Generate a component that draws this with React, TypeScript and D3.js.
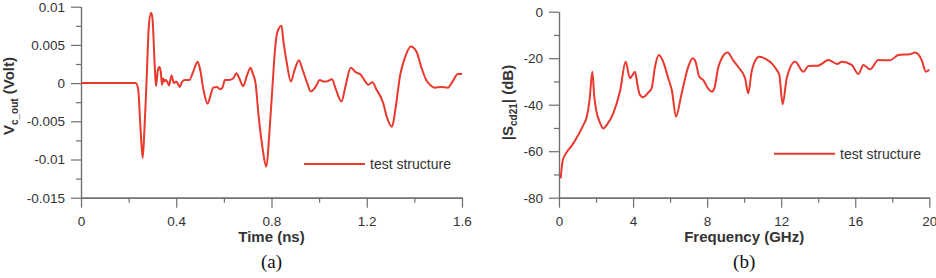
import React, { useEffect, useRef } from 'react';
import * as d3 from 'd3';

// (a) transient response
const timeNs = [
  0, 0.23, 0.24, 0.25, 0.259, 0.265, 0.275, 0.285, 0.294, 0.3, 0.31, 0.315, 0.322, 0.329, 0.335, 0.34,
  0.345, 0.35, 0.355, 0.362, 0.37, 0.38, 0.39, 0.4, 0.415, 0.425, 0.436, 0.455, 0.47, 0.49, 0.5, 0.515,
  0.532, 0.545, 0.555, 0.57, 0.585, 0.595, 0.604, 0.62, 0.639, 0.653, 0.665, 0.681, 0.695, 0.712, 0.722,
  0.733, 0.745, 0.76, 0.779, 0.79, 0.805, 0.815, 0.825, 0.842, 0.85, 0.865, 0.881, 0.895, 0.915, 0.93,
  0.95, 0.965, 0.985, 1.003, 1.02, 1.031, 1.054, 1.07, 1.094, 1.11, 1.133, 1.155, 1.175, 1.19, 1.206,
  1.224, 1.24, 1.269, 1.285, 1.306, 1.32, 1.34, 1.36, 1.385, 1.409, 1.43, 1.45, 1.465, 1.486, 1.51,
  1.541, 1.56, 1.583, 1.6,
];
const voltOut = [
  0, 0, -0.0008, -0.006, -0.0098, -0.007, 0.0, 0.0075, 0.0092, 0.0085, 0.002, -0.0004, 0.0015, 0.0021,
  0.0015, -0.0002, 0.0006, 0.0002, 0.0004, 0.0002, -0.0003, 0.001, 0.0, 0.0002, -0.0005, 0.0002, 0.0004,
  0.0004, 0.0014, 0.0028, 0.0018, -0.001, -0.0027, -0.0015, -0.0006, -0.0005, -0.0008, -0.0005, 0.0004,
  0.0004, 0.0006, 0.0013, 0.0006, -0.0004, 0.0008, 0.002, 0.0012, 0.0, -0.004, -0.008, -0.0109, -0.007,
  0.0, 0.0045, 0.0067, 0.0075, 0.0055, 0.0025, 0.0002, 0.0015, 0.003, 0.0018, 0.0, -0.0011, -0.0005,
  0.0004, 0.0002, 0.0002, 0.0005, -0.0008, -0.0024, -0.0005, 0.002, 0.0014, 0.0011, 0.0004, -0.0002,
  0.0001, -0.0008, -0.0026, -0.0045, -0.0057, -0.0035, 0.001, 0.0033, 0.0048, 0.0041, 0.002, 0.0004,
  -0.0002, -0.0006, -0.0005, -0.0006, 0.0002, 0.0012, 0.0012,
];

// (b) mode conversion
const freqGHz = [
  0.09, 0.2, 0.38, 0.7, 1.04, 1.3, 1.5, 1.65, 1.8, 1.9, 2.0, 2.2, 2.39, 2.6, 2.93, 3.3, 3.6, 3.83, 3.95,
  4.1, 4.25, 4.37, 4.55, 4.8, 5.0, 5.2, 5.4, 5.6, 5.9, 6.1, 6.32, 6.6, 6.98, 7.22, 7.35, 7.58, 7.8, 8.05,
  8.25, 8.39, 8.6, 8.79, 9.11, 9.4, 9.7, 10.05, 10.22, 10.4, 10.6, 10.82, 11.2, 11.49, 11.75, 11.9, 12.08,
  12.3, 12.75, 13.2, 13.47, 14.0, 14.55, 15.03, 15.27, 15.81, 16.17, 16.44, 16.8, 17.25, 17.88, 18.33,
  18.96, 19.23, 19.59, 19.82, 20.0,
];
const scd21 = [
  -71.7, -64, -60.9, -57.5, -53, -49, -45.2, -38, -25.8, -36, -42, -47.5, -50.2, -48.5, -43.7, -34, -21.5,
  -28.6, -27.5, -25.8, -32, -35.8, -36.8, -35, -33, -23, -18.6, -21, -28.6, -34, -45.2, -36, -23.7, -20,
  -21, -28, -29.5, -33, -34.4, -33, -24, -20, -17.5, -20.8, -24, -28.6, -35.1, -26, -21, -19.4, -20.5,
  -22.2, -25, -27.2, -39.8, -28.6, -21.5, -25.8, -23.4, -23.2, -20.8, -22.5, -21.5, -22.9, -26.8, -22.9,
  -24.8, -20.8, -20.9, -18.6, -18.3, -17.6, -20.8, -25.8, -25,
];

const timeTicks = [0, 0.4, 0.8, 1.2, 1.6];
const timeMinor = [0.2, 0.6, 1.0, 1.4];
const voltTicks = [-0.015, -0.01, -0.005, 0, 0.005, 0.01];
const voltMinor = [-0.0125, -0.0075, -0.0025, 0.0025, 0.0075];
const freqTicks = [0, 4, 8, 12, 16, 20];
const freqMinor = [2, 6, 10, 14, 18];
const dbTicks = [-80, -60, -40, -20, 0];
const dbMinor = [-70, -50, -30, -10];
const legendLabel = 'test structure';

const SANS = 'Arial, "Liberation Sans", sans-serif';
const SERIF = '"Times New Roman", "Liberation Serif", serif';
const AXIS = '#6e6e6e';
const TEXT = '#333';
const RED = '#e8392c';

const drawPanel = (root, p) => {
  const x = d3.scaleLinear().domain(p.xDomain).range([p.left, p.right]);
  const y = d3.scaleLinear().domain(p.yDomain).range([p.bottom, p.top]);
  const g = root.append('g');

  const fmt = (d) => String(d);
  const axes = [
    d3.axisBottom(x).tickValues(p.xMinor).tickSize(5).tickFormat(() => ''),
    d3.axisLeft(y).tickValues(p.yMinor).tickSize(5).tickFormat(() => ''),
    d3.axisBottom(x).tickValues(p.xTicks).tickSize(10).tickPadding(9).tickFormat(fmt),
    d3.axisLeft(y).tickValues(p.yTicks).tickSize(10).tickPadding(6).tickFormat(fmt),
  ];
  axes.forEach((ax, i) => {
    const a = g
      .append('g')
      .attr('transform', i % 2 === 0 ? `translate(0,${p.bottom})` : `translate(${p.left},0)`)
      .call(ax.tickSizeOuter(0));
    a.selectAll('.domain, .tick line').attr('stroke', AXIS).attr('stroke-width', 1.2);
    a.selectAll('text')
      .attr('fill', TEXT)
      .style('font-family', SANS)
      .style('font-size', '13.5px');
  });

  const line = d3
    .line()
    .x((d) => x(d[0]))
    .y((d) => y(d[1]))
    .curve(d3.curveMonotoneX);
  g.append('path')
    .datum(p.xs.map((v, i) => [v, p.ys[i]]))
    .attr('d', line)
    .attr('fill', 'none')
    .attr('stroke', RED)
    .attr('stroke-width', 2)
    .attr('stroke-linejoin', 'round');

  // legend
  g.append('line')
    .attr('x1', p.legend[0])
    .attr('x2', p.legend[0] + 61)
    .attr('y1', p.legend[1])
    .attr('y2', p.legend[1])
    .attr('stroke', RED)
    .attr('stroke-width', 2);
  g.append('text')
    .attr('x', p.legend[0] + 66)
    .attr('y', p.legend[1])
    .attr('dy', '0.35em')
    .attr('fill', TEXT)
    .style('font-family', SANS)
    .style('font-size', '14px')
    .text(legendLabel);

  const cx = (p.left + p.right) / 2;
  g.append('text')
    .attr('x', cx)
    .attr('y', 242)
    .attr('text-anchor', 'middle')
    .attr('fill', TEXT)
    .style('font-family', SANS)
    .style('font-size', '15px')
    .style('font-weight', 'bold')
    .text(p.xLabel);
  g.append('text')
    .attr('x', cx)
    .attr('y', 268)
    .attr('text-anchor', 'middle')
    .attr('fill', '#111')
    .style('font-family', SERIF)
    .style('font-size', '19px')
    .text(p.caption);

  // rotated y label with subscript
  const yl = g
    .append('text')
    .attr('transform', `translate(${p.yLabelPos[0]},${p.yLabelPos[1]}) rotate(-90)`)
    .attr('text-anchor', 'middle')
    .attr('fill', TEXT)
    .style('font-family', SANS)
    .style('font-size', '15px')
    .style('font-weight', 'bold');
  yl.append('tspan').text(p.yLabel[0]);
  yl.append('tspan').attr('dy', 4).style('font-size', '10px').text(p.yLabel[1]);
  yl.append('tspan').attr('dy', -4).text(p.yLabel[2]);
};

const App = () => {
  const ref = useRef(null);

  useEffect(() => {
    const svg = d3.select(ref.current);
    svg.selectAll('*').remove();

    drawPanel(svg, {
      xDomain: [0, 1.6],
      yDomain: [-0.015, 0.01],
      left: 81,
      right: 462,
      top: 6.7,
      bottom: 197.7,
      xTicks: timeTicks,
      xMinor: timeMinor,
      yTicks: voltTicks,
      yMinor: voltMinor,
      xs: timeNs,
      ys: voltOut,
      legend: [304, 164],
      xLabel: 'Time (ns)',
      caption: '(a)',
      yLabel: ['V', 'c_out', ' (Volt)'],
      yLabelPos: [13.5, 96],
    });

    drawPanel(svg, {
      xDomain: [0, 20],
      yDomain: [-80, 0],
      left: 559,
      right: 929.3,
      top: 11.7,
      bottom: 197.7,
      xTicks: freqTicks,
      xMinor: freqMinor,
      yTicks: dbTicks,
      yMinor: dbMinor,
      xs: freqGHz,
      ys: scd21,
      legend: [774, 153.7],
      xLabel: 'Frequency (GHz)',
      caption: '(b)',
      yLabel: ['|S', 'cd21', '| (dB)'],
      yLabelPos: [512.5, 102.5],
    });
  }, []);

  return (
    <svg
      ref={ref}
      width={936}
      height={278}
      style={{ position: 'absolute', left: 0, top: 0, background: '#fff' }}
    />
  );
};

export default App;
